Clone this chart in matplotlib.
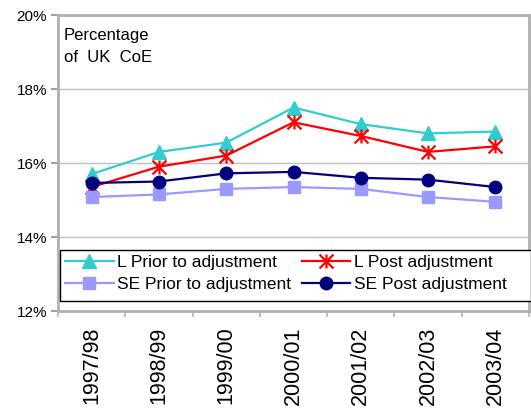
import matplotlib
matplotlib.use("Agg")
import matplotlib.pyplot as plt
from matplotlib.path import Path
from matplotlib.patches import Rectangle
from matplotlib.ticker import FuncFormatter

plt.rcParams['font.family'] = ['Liberation Sans', 'DejaVu Sans']

years = ["1997/98", "1998/99", "1999/00", "2000/01", "2001/02", "2002/03", "2003/04"]
l_prior = [15.7, 16.3, 16.55, 17.5, 17.05, 16.8, 16.85]
l_post = [15.35, 15.9, 16.2, 17.1, 16.73, 16.3, 16.45]
se_prior = [15.08, 15.15, 15.3, 15.35, 15.3, 15.08, 14.95]
se_post = [15.46, 15.5, 15.72, 15.76, 15.6, 15.55, 15.35]
yticks = [12, 14, 16, 18, 20]

star = Path([(0, -1), (0, 1), (-1, -1), (1, 1), (-1, 1), (1, -1)],
            [Path.MOVETO, Path.LINETO, Path.MOVETO, Path.LINETO, Path.MOVETO, Path.LINETO])

fig = plt.figure(figsize=(5.31, 4.11), dpi=100)
ax = fig.add_axes([58/531, 1-311/411, (529-58)/531, (311-15)/411])

x = list(range(len(years)))
h1, = ax.plot(x, l_prior, color='#33CCCC', lw=1.6, marker='^', ms=10, mec='#33CCCC', mfc='#33CCCC',
              label='L Prior to adjustment', zorder=3)
h2, = ax.plot(x, l_post, color='#FF0000', lw=1.6, marker=star, ms=10, mec='#FF0000', mfc='none', mew=1.6,
              label='L Post adjustment', zorder=3)
h3, = ax.plot(x, se_prior, color='#9999FF', lw=1.6, marker='s', ms=8.5, mec='#9999FF', mfc='#9999FF',
              label='SE Prior to adjustment', zorder=3)
h4, = ax.plot(x, se_post, color='#000080', lw=1.6, marker='o', ms=9, mec='#000080', mfc='#000080',
              label='SE Post adjustment', zorder=3)

ax.set_xlim(-0.5, 6.5)
ax.set_ylim(12, 20)
ax.set_yticks(yticks)
ax.yaxis.set_major_formatter(FuncFormatter(lambda v, p: f"{v:.0f}%"))
ax.grid(axis='y', color='#C0C0C0', lw=1)
ax.set_axisbelow(True)

ax.set_xticks([i - 0.5 for i in range(len(years) + 1)])
ax.set_xticklabels([])
ax.set_xticks(x, minor=True)
ax.set_xticklabels(years, minor=True, rotation=90, fontsize=15.5, va='top')
ax.tick_params(axis='x', which='minor', length=0, pad=11)
ax.tick_params(axis='x', which='major', length=4, color='#C0C0C0', width=1.5, direction='out')
ax.tick_params(axis='y', length=5, color='#A0A0A0', width=1.5, direction='out', labelsize=11, pad=3)

for s in ['left', 'top', 'bottom', 'right']:
    ax.spines[s].set_color('#B0B0B0')
    ax.spines[s].set_linewidth(2)

ax.text(0.012, 0.955, "Percentage\nof  UK  CoE", transform=ax.transAxes, fontsize=12,
        va='top', ha='left', linespacing=1.55)

# legend frame spanning the plot width
ax.add_patch(Rectangle((0.004, 0.034), 1.0, 0.172, transform=ax.transAxes, facecolor='white',
                       edgecolor='black', lw=1, zorder=4, clip_on=False))
leg = ax.legend([h1, h3, h2, h4],
                [h.get_label() for h in (h1, h3, h2, h4)],
                loc='upper left', bbox_to_anchor=(0.004, 0.206),
                ncol=2, fontsize=12.5, frameon=False,
                handlelength=2.8, handletextpad=0.2, borderaxespad=0, columnspacing=0.6,
                borderpad=0.3, labelspacing=0.38)
leg.set_zorder(5)

fig.savefig("out.png", dpi=100)
